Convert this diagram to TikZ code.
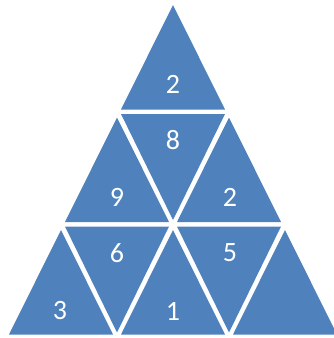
\documentclass[tikz,border=0pt]{standalone}
\usepackage{fontspec}
\setmainfont{Carlito}
\definecolor{tblue}{HTML}{4F81BD}
\begin{document}
\begin{tikzpicture}[x=1pt,y=-1pt,
  tri/.style={fill=tblue,draw=none},
  num/.style={text=white,font=\fontsize{28}{28}\selectfont,inner sep=0pt,anchor=center}]
\useasboundingbox (0,0) rectangle (333,338);
% upward triangles
\foreach \cx/\r in {173/0,117/1,229/1,61/2,173/2,285/2}{
  \pgfmathsetmacro{\ya}{5+112.5*\r}
  \pgfmathsetmacro{\yb}{109.5+112.5*\r}
  \fill[tri] (\cx,\ya) -- (\cx+52,\yb) -- (\cx-52,\yb) -- cycle;
}
% inverted triangles
\foreach \cx/\r in {173/1,117/2,229/2}{
  \pgfmathsetmacro{\ya}{1.5+112.5*\r}
  \pgfmathsetmacro{\yb}{107.5+112.5*\r}
  \fill[tri] (\cx-52,\ya) -- (\cx+52,\ya) -- (\cx,\yb) -- cycle;
}
\node[num] (n2a) at (173,84) {2};
\node[num] (n8) at (173,140) {8};
\node[num] (n9) at (117,197) {9};
\node[num] (n2b) at (230,197) {2};
\node[num] (n6) at (117,253) {6};
\node[num] (n5) at (230,253) {5};
\node[num] (n3) at (60,311) {3};
\node[num] (n1) at (173,311) {1};
\end{tikzpicture}
\end{document}
